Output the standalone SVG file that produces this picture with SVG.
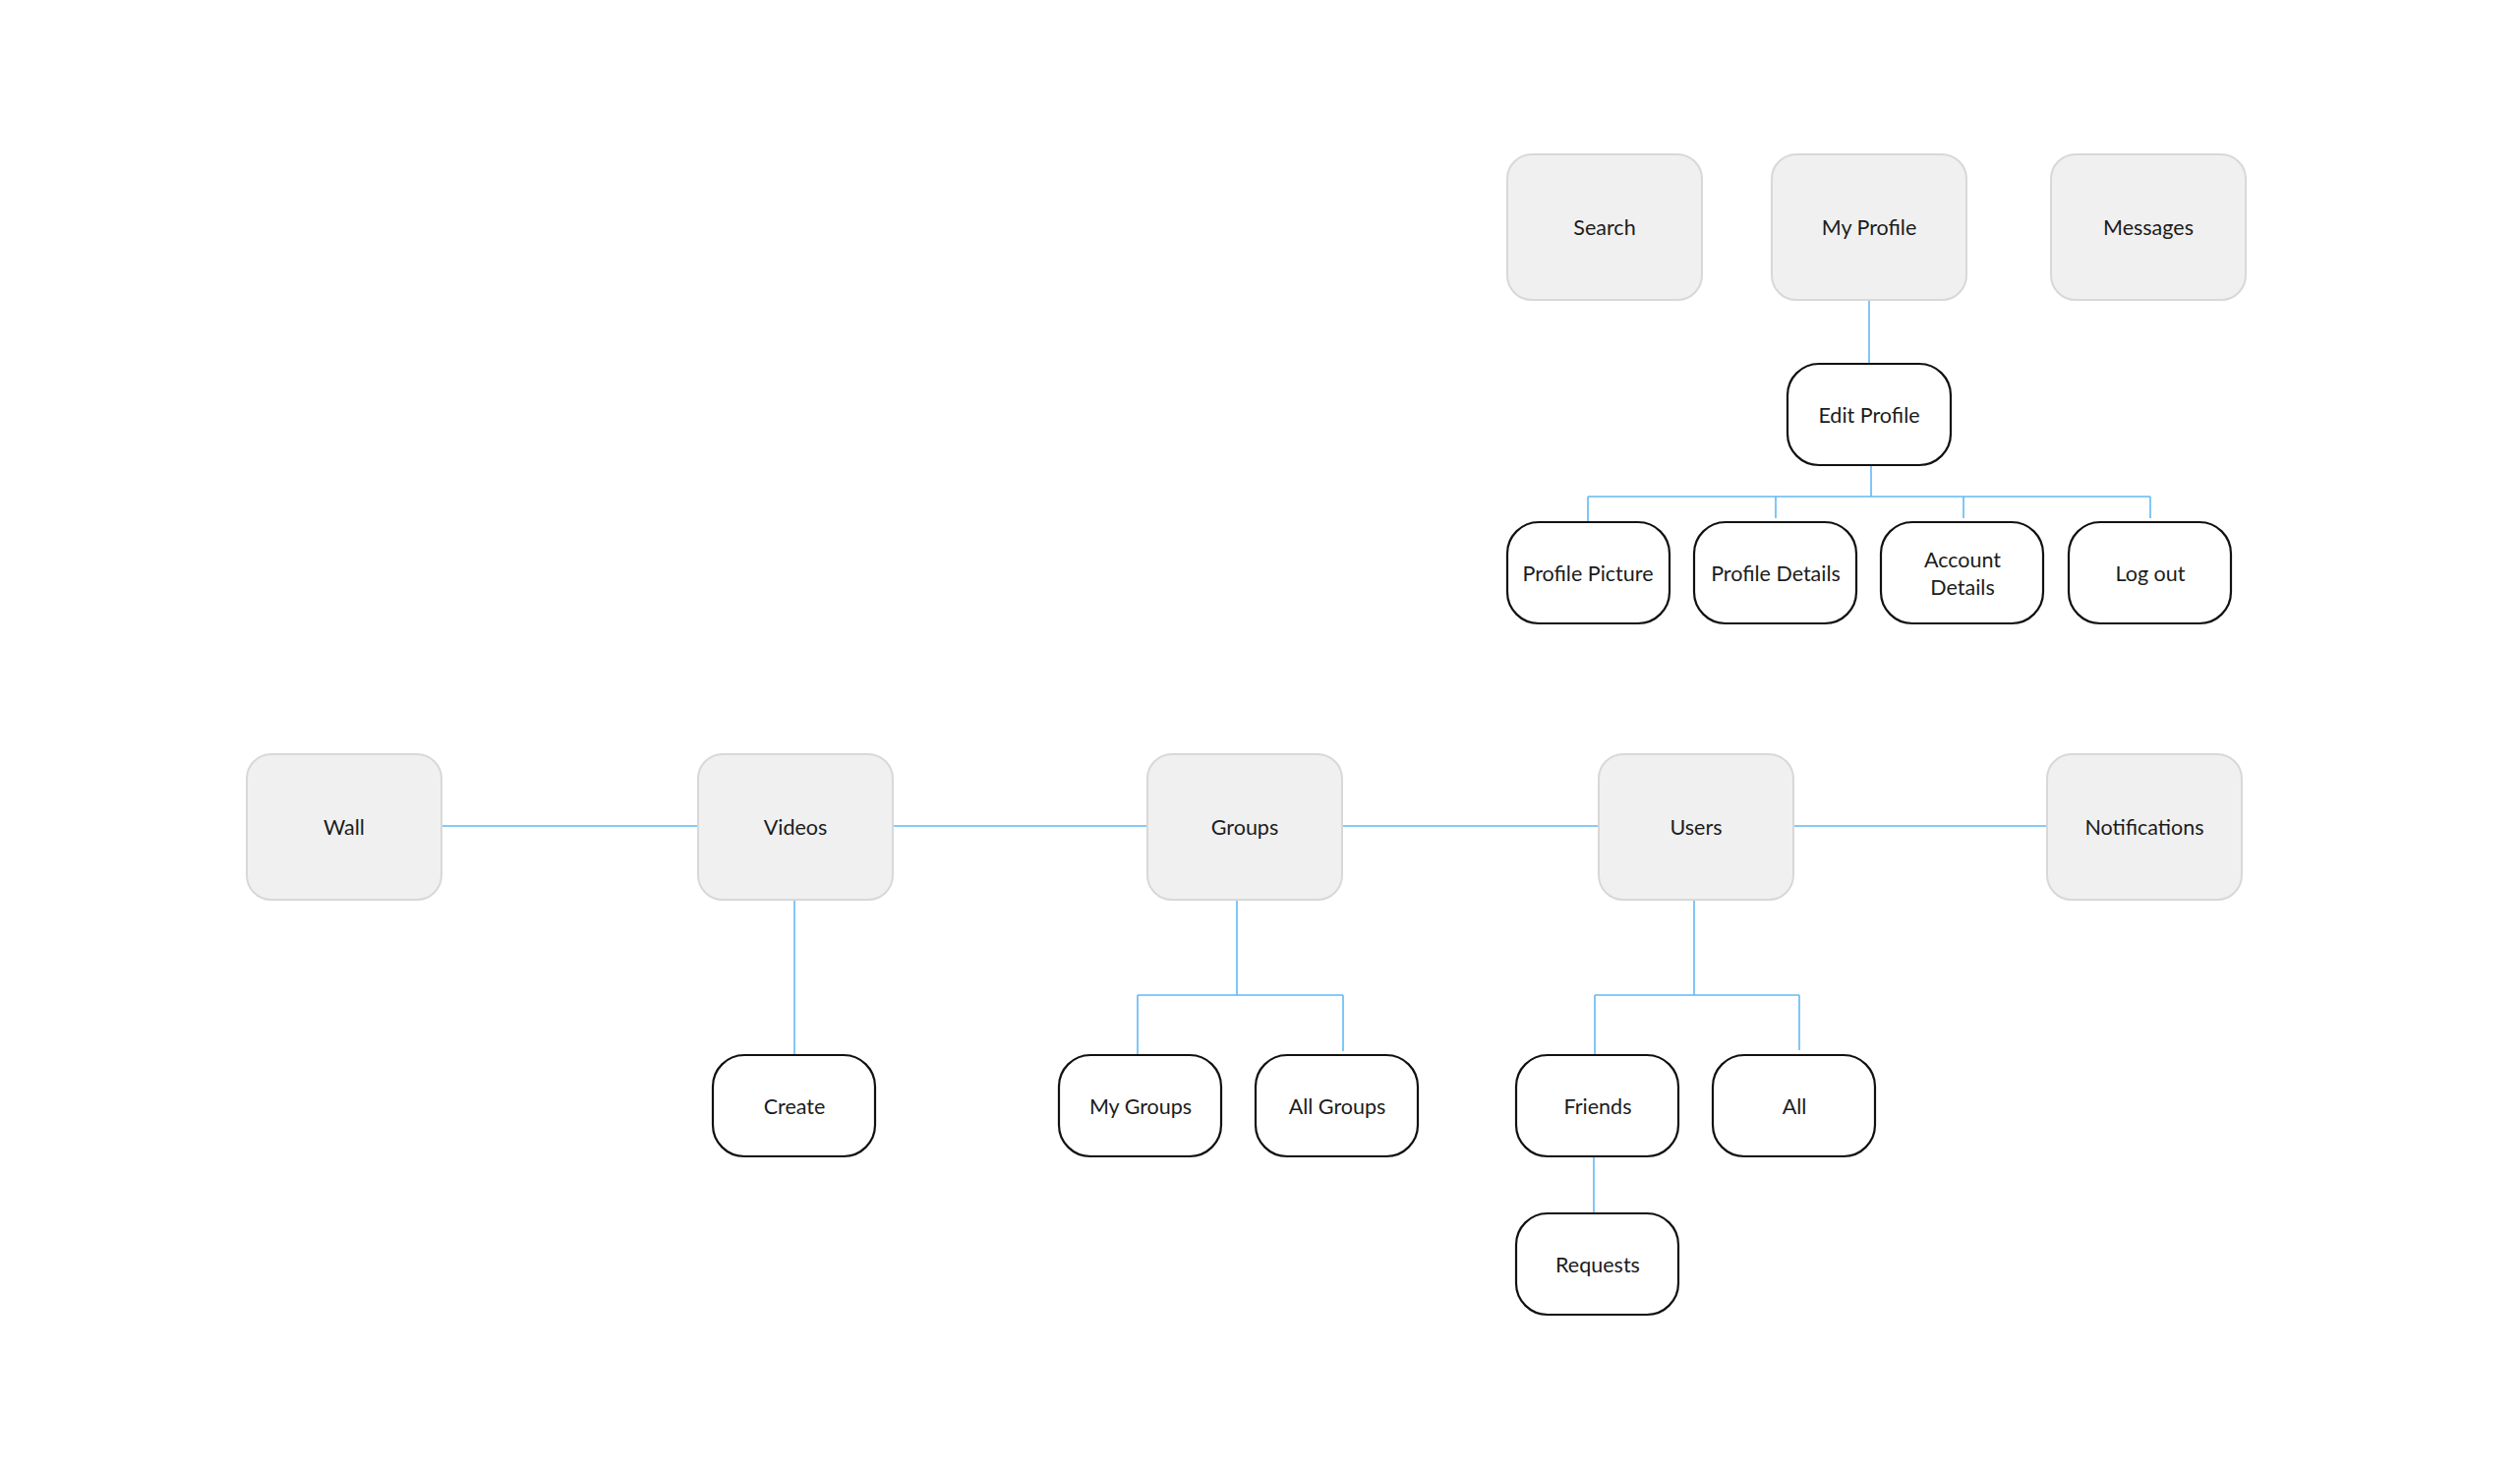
<svg xmlns="http://www.w3.org/2000/svg" width="2563" height="1497" viewBox="0 0 2563 1497">
<style>
.g{fill:#f0f0f0;stroke:#d8d8d8;stroke-width:2}
.b{fill:#ffffff;stroke:#111111;stroke-width:2.2}
.t{font-family:Lato,"Liberation Sans",sans-serif;font-size:21.5px;fill:#1c1c1c;text-anchor:middle;dominant-baseline:central}
.c{fill:none;stroke:#62b9f4;stroke-width:1.6}
</style>
<rect x="0" y="0" width="2563" height="1497" fill="#ffffff"/>
<g id="connectors">
<path class="c" d="M1901,305V370"/>
<path class="c" d="M1903,473V505M1615,505H2187M1615,505V531M1806,505V527M1997,505V527M2187,505V527"/>
<path class="c" d="M449,840H709M908,840H1167M1365,840H1626M1824,840H2082"/>
<path class="c" d="M808,915V1073"/>
<path class="c" d="M1258,915V1012M1157,1012H1366M1157,1012V1073M1366,1012V1069"/>
<path class="c" d="M1723,915V1012M1622,1012H1830M1622,1012V1073M1830,1012V1068"/>
<path class="c" d="M1621,1176V1234"/>
</g>
<g id="search"><rect class="g" x="1533" y="157" width="198" height="148" rx="25"/><text class="t" x="1632" y="231">Search</text></g>
<g id="my-profile"><rect class="g" x="1802" y="157" width="198" height="148" rx="25"/><text class="t" x="1901" y="231">My Profile</text></g>
<g id="messages"><rect class="g" x="2086" y="157" width="198" height="148" rx="25"/><text class="t" x="2185" y="231">Messages</text></g>
<g id="edit-profile"><rect class="b" x="1818" y="370" width="166" height="103" rx="32"/><text class="t" x="1901" y="422">Edit Profile</text></g>
<g id="profile-picture"><rect class="b" x="1533" y="531" width="165" height="103" rx="32"/><text class="t" x="1615" y="583">Profile Picture</text></g>
<g id="profile-details"><rect class="b" x="1723" y="531" width="165" height="103" rx="32"/><text class="t" x="1806" y="583">Profile Details</text></g>
<g id="account-details"><rect class="b" x="1913" y="531" width="165" height="103" rx="32"/><text class="t" x="1996" y="569">Account</text><text class="t" x="1996" y="597">Details</text></g>
<g id="log-out"><rect class="b" x="2104" y="531" width="165" height="103" rx="32"/><text class="t" x="2187" y="583">Log out</text></g>
<g id="wall"><rect class="g" x="251" y="767" width="198" height="148" rx="25"/><text class="t" x="350" y="841">Wall</text></g>
<g id="videos"><rect class="g" x="710" y="767" width="198" height="148" rx="25"/><text class="t" x="809" y="841">Videos</text></g>
<g id="groups"><rect class="g" x="1167" y="767" width="198" height="148" rx="25"/><text class="t" x="1266" y="841">Groups</text></g>
<g id="users"><rect class="g" x="1626" y="767" width="198" height="148" rx="25"/><text class="t" x="1725" y="841">Users</text></g>
<g id="notifications"><rect class="g" x="2082" y="767" width="198" height="148" rx="25"/><text class="t" x="2181" y="841">Notifications</text></g>
<g id="create"><rect class="b" x="725" y="1073" width="165" height="103" rx="32"/><text class="t" x="808" y="1125">Create</text></g>
<g id="my-groups"><rect class="b" x="1077" y="1073" width="165" height="103" rx="32"/><text class="t" x="1160" y="1125">My Groups</text></g>
<g id="all-groups"><rect class="b" x="1277" y="1073" width="165" height="103" rx="32"/><text class="t" x="1360" y="1125">All Groups</text></g>
<g id="friends"><rect class="b" x="1542" y="1073" width="165" height="103" rx="32"/><text class="t" x="1625" y="1125">Friends</text></g>
<g id="all"><rect class="b" x="1742" y="1073" width="165" height="103" rx="32"/><text class="t" x="1825" y="1125">All</text></g>
<g id="requests"><rect class="b" x="1542" y="1234" width="165" height="103" rx="32"/><text class="t" x="1625" y="1286">Requests</text></g>
</svg>
